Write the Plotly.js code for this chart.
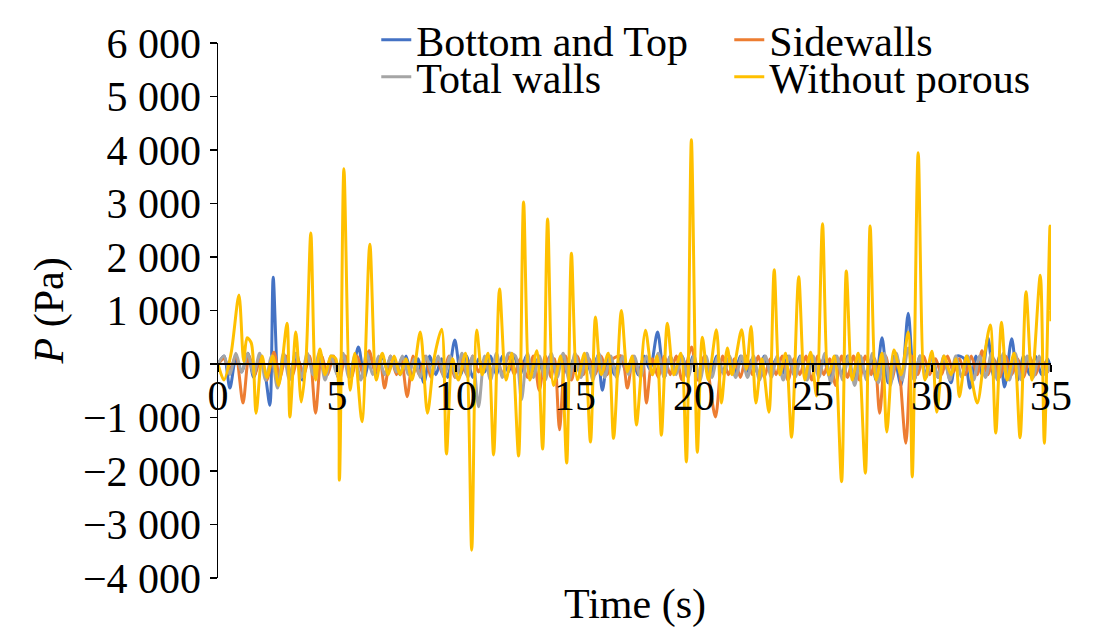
<!DOCTYPE html>
<html><head><meta charset="utf-8">
<script src="https://cdn.plot.ly/plotly-3.0.1.min.js"></script>
<style>html,body{margin:0;padding:0;background:#fff}#chart{width:1117px;height:634px}</style>
</head><body><div id="chart"></div>
<script>
const seriesNames = ["Bottom and Top", "Sidewalls", "Total walls", "Without porous"];
const seriesColors = ["#4472C4", "#ED7D31", "#A5A5A5", "#FFC000"];

// [time (s), pressure (Pa)]
const bottomTop = [[0,0],[0.25,150],[0.5,-450],[0.75,100],[1.0,-150],[1.25,200],[1.5,-250],[1.75,150],[1.95,-100],[2.18,-770],[2.32,1620],[2.55,-350],[2.8,150],[3.05,-250],[3.3,200],[3.55,-300],[3.8,150],[4.05,-200],[4.3,200],[4.55,-150],[4.8,150],[5.05,-250],[5.3,100],[5.6,-200],[5.9,320],[6.15,-250],[6.4,150],[6.65,-200],[6.9,150],[7.15,-150],[7.4,100],[7.65,-200],[7.9,150],[8.15,-250],[8.4,100],[8.65,-350],[8.9,150],[9.15,-200],[9.4,100],[9.65,-250],[9.95,450],[10.2,-200],[10.45,150],[10.7,-250],[10.95,100],[11.2,-150],[11.45,150],[11.7,-200],[11.95,150],[12.2,-150],[12.45,150],[12.7,-200],[12.95,150],[13.2,-150],[13.45,100],[13.7,-200],[13.95,150],[14.2,-150],[14.45,150],[14.7,-200],[14.95,100],[15.2,-150],[15.45,150],[15.7,-200],[15.95,150],[16.15,-490],[16.4,150],[16.65,-200],[16.9,150],[17.15,-150],[17.4,100],[17.65,-200],[17.9,150],[18.15,-100],[18.47,600],[18.75,-250],[19.0,150],[19.25,-150],[19.5,150],[19.75,-200],[19.95,150],[20.2,-300],[20.45,150],[20.7,-200],[20.95,150],[21.2,-150],[21.45,100],[21.7,-200],[21.95,150],[22.2,-150],[22.45,100],[22.7,-200],[22.95,150],[23.2,-150],[23.45,100],[23.7,-200],[23.95,150],[24.2,-200],[24.45,150],[24.7,-250],[24.95,150],[25.2,-150],[25.45,100],[25.7,-250],[25.95,150],[26.2,-200],[26.45,150],[26.7,-300],[26.95,150],[27.2,-200],[27.45,100],[27.65,-300],[27.9,490],[28.15,-350],[28.4,150],[28.7,-400],[29.0,950],[29.25,-300],[29.5,150],[29.75,-200],[30.0,150],[30.25,-250],[30.5,100],[30.8,-350],[31.05,150],[31.35,100],[31.6,-450],[31.85,150],[32.1,-200],[32.35,490],[32.6,-250],[32.85,150],[33.05,-430],[33.35,470],[33.6,-300],[33.85,150],[34.1,-200],[34.35,150],[34.6,-200],[34.85,100],[35.0,-100]];

const sidewalls = [[0,0],[0.25,100],[0.5,-100],[0.75,150],[1.05,-730],[1.3,150],[1.55,-200],[1.8,150],[2.05,-300],[2.35,220],[2.6,-250],[2.85,150],[3.1,-250],[3.35,100],[3.6,-200],[3.85,150],[4.1,-920],[4.35,150],[4.6,-200],[4.85,150],[5.1,-300],[5.35,150],[5.6,-250],[5.85,150],[6.1,-200],[6.35,250],[6.6,-150],[6.8,100],[7.0,-450],[7.25,150],[7.5,-200],[7.7,100],[7.95,-610],[8.2,150],[8.45,-200],[8.7,150],[8.95,-250],[9.2,100],[9.45,-200],[9.7,150],[9.95,-250],[10.2,100],[10.45,-200],[10.7,150],[10.95,-150],[11.2,100],[11.45,-200],[11.7,150],[11.95,-200],[12.2,150],[12.45,-200],[12.7,100],[13.0,-250],[13.25,150],[13.5,-490],[13.75,150],[14.0,-250],[14.15,100],[14.35,-1230],[14.6,150],[14.85,-300],[15.1,150],[15.35,-200],[15.6,100],[15.85,-200],[16.1,150],[16.35,-200],[16.6,100],[16.95,150],[17.2,-450],[17.45,150],[17.7,-200],[17.85,100],[18.0,-730],[18.25,100],[18.5,-250],[18.75,150],[19.0,-200],[19.25,150],[19.5,-300],[19.9,320],[20.15,-300],[20.45,150],[20.9,-990],[21.2,150],[21.45,-200],[21.7,100],[21.95,-250],[22.2,150],[22.45,-200],[22.7,150],[22.95,-250],[23.2,100],[23.45,-200],[23.7,150],[23.95,-300],[24.2,100],[24.45,-200],[24.7,150],[24.95,-300],[25.2,150],[25.45,-200],[25.7,100],[25.95,-400],[26.2,150],[26.45,-250],[26.7,150],[26.95,-300],[27.2,150],[27.45,-200],[27.6,100],[27.8,-920],[28.05,150],[28.3,-300],[28.55,100],[28.9,-1480],[29.15,150],[29.4,-200],[29.65,150],[29.9,-200],[30.15,100],[30.4,-200],[30.65,150],[30.9,-150],[31.15,100],[31.4,-200],[31.65,150],[31.9,-200],[32.1,250],[32.35,-200],[32.6,100],[32.85,-250],[33.1,150],[33.35,-200],[33.6,100],[33.85,-250],[34.1,150],[34.35,-200],[34.6,100],[34.85,-150],[35.0,0]];

const totalWalls = [[0,0],[0.25,150],[0.5,-200],[0.75,200],[1.0,-150],[1.25,200],[1.5,-200],[1.75,200],[2.0,-300],[2.25,150],[2.5,-450],[2.75,200],[3.0,-300],[3.25,200],[3.5,-250],[3.75,200],[4.0,-200],[4.25,200],[4.5,-300],[4.75,150],[5.0,-200],[5.25,200],[5.5,-250],[5.75,150],[6.0,-300],[6.25,200],[6.5,-200],[6.75,150],[7.0,-200],[7.25,150],[7.5,-150],[7.75,150],[8.0,-200],[8.25,100],[8.5,-250],[8.75,150],[9.0,-200],[9.25,150],[9.5,-250],[9.75,150],[10.0,-250],[10.25,200],[10.5,-250],[10.7,150],[10.95,-800],[11.2,150],[11.45,-300],[11.7,200],[11.95,-250],[12.2,200],[12.5,150],[12.75,-670],[13.0,200],[13.25,-250],[13.5,150],[13.75,-300],[14.0,200],[14.25,-250],[14.5,200],[14.75,-300],[15.0,200],[15.25,-250],[15.5,200],[15.75,-300],[16.0,200],[16.25,-250],[16.5,150],[16.75,-250],[17.0,150],[17.25,-200],[17.5,150],[17.75,-250],[18.0,150],[18.25,-200],[18.5,200],[18.75,-250],[19.0,150],[19.25,-200],[19.5,150],[19.75,-250],[20.0,150],[20.25,-300],[20.5,150],[20.75,-250],[21.0,150],[21.25,-200],[21.5,150],[21.75,-250],[22.0,150],[22.25,-250],[22.5,150],[22.75,-300],[23.0,150],[23.25,-250],[23.5,150],[23.75,-300],[24.0,150],[24.25,-250],[24.5,150],[24.75,-300],[25.0,150],[25.25,-250],[25.5,200],[25.75,-350],[26.0,150],[26.25,-300],[26.5,150],[26.75,-400],[27.0,150],[27.25,-300],[27.5,200],[27.75,-350],[28.0,200],[28.25,-400],[28.5,200],[28.75,-300],[29.0,300],[29.25,-300],[29.5,150],[29.75,-250],[30.0,150],[30.25,-250],[30.5,150],[30.75,-300],[31.0,150],[31.25,-250],[31.5,150],[31.75,-300],[32.0,150],[32.25,-250],[32.5,200],[32.75,-300],[33.0,200],[33.25,-300],[33.5,200],[33.75,-300],[34.0,150],[34.25,-250],[34.5,150],[34.75,-200],[35.0,0]];

const withoutPorous = [[0,0],[0.25,-300],[0.55,200],[0.88,1290],[1.08,50],[1.22,490],[1.40,390],[1.60,-920],[1.85,150],[2.05,-250],[2.30,150],[2.55,-400],[2.90,760],[3.02,-990],[3.27,600],[3.50,-710],[3.70,100],[3.90,2450],[4.10,-300],[4.28,280],[4.50,-200],[4.75,150],[4.95,100],[5.10,-2170],[5.29,3650],[5.55,-490],[5.75,200],[6.05,-1080],[6.38,2240],[6.65,-300],[6.90,200],[7.15,-200],[7.40,150],[7.65,-200],[7.90,100],[8.15,-300],[8.50,600],[8.80,-920],[9.10,150],[9.40,650],[9.60,-1680],[9.85,100],[10.10,-300],[10.40,200],[10.66,-3480],[10.87,635],[11.10,-200],[11.35,200],[11.58,-1700],[11.83,1400],[12.10,-300],[12.35,200],[12.63,-1720],[12.84,3030],[13.10,-300],[13.40,250],[13.64,-1590],[13.85,2710],[14.10,-400],[14.40,150],[14.65,-1850],[14.85,2070],[15.10,-300],[15.40,200],[15.65,-1460],[15.86,880],[16.10,-200],[16.40,200],[16.62,-1390],[16.95,1000],[17.20,-150],[17.40,150],[17.58,-1140],[17.96,630],[18.25,-200],[18.45,150],[18.63,-1330],[18.88,760],[19.15,-200],[19.45,200],[19.68,-1830],[19.89,4190],[20.14,-1650],[20.35,500],[20.60,-300],[20.94,640],[21.15,-730],[21.40,300],[21.60,-200],[22.00,640],[22.20,-100],[22.40,700],[22.60,-730],[22.85,100],[23.15,-900],[23.37,1760],[23.60,-200],[23.85,200],[24.10,-1370],[24.40,1630],[24.65,-300],[24.90,220],[25.15,-600],[25.40,2620],[25.65,-200],[25.90,150],[26.20,-2200],[26.40,1740],[26.65,-300],[26.90,200],[27.20,-2040],[27.40,2580],[27.65,-300],[27.90,200],[28.10,-1270],[28.40,260],[28.70,-200],[29.00,600],[29.17,-2110],[29.42,3950],[29.70,-300],[30.00,240],[30.20,-900],[30.50,150],[30.80,-200],[31.00,100],[31.15,-610],[31.45,150],[31.90,-730],[32.20,150],[32.45,730],[32.68,-1290],[32.92,780],[33.15,-300],[33.45,200],[33.70,-1380],[33.95,1350],[34.20,-300],[34.55,1660],[34.72,-1480],[34.96,2580],[35.00,800]];

const yTickValues = [-4000, -3000, -2000, -1000, 0, 1000, 2000, 3000, 4000, 5000, 6000];
const yTickLabels = ["\u22124 000", "\u22123 000", "\u22122 000", "\u22121 000", "0", "1 000", "2 000", "3 000", "4 000", "5 000", "6 000"];
const xTickValues = [0, 5, 10, 15, 20, 25, 30, 35];
const xTickLabels = ["0", "5", "10", "15", "20", "25", "30", "35"];
const xTitle = "Time (s)";
const yTitle = "<i>P</i> (Pa)";

const allSeries = [bottomTop, sidewalls, totalWalls, withoutPorous];
const legendIds = ["legend", "legend", "legend2", "legend2"];
const FONT = "Liberation Serif, Times New Roman, serif";

const traces = allSeries.map((s, i) => ({
  type: "scatter", mode: "lines",
  x: s.map(p => p[0]), y: s.map(p => p[1]),
  name: seriesNames[i], legend: legendIds[i],
  line: {color: seriesColors[i], width: 3, shape: "spline", smoothing: 0.8},
  hoverinfo: "x+y+name"
}));

const legendCommon = {
  orientation: "h", xanchor: "left", yanchor: "middle",
  entrywidth: 308, itemwidth: 30, bgcolor: "rgba(0,0,0,0)",
  font: {family: FONT, size: 42, color: "#000"}
};

const layout = {
  width: 1117, height: 634,
  margin: {l: 218, r: 66, t: 43, b: 56, autoexpand: false},
  paper_bgcolor: "#fff", plot_bgcolor: "#fff",
  font: {family: FONT, size: 42, color: "#000"},
  showlegend: true,
  legend: Object.assign({x: 0.19, y: 1.0055}, legendCommon),
  legend2: Object.assign({x: 0.19, y: 0.9365}, legendCommon),
  xaxis: {
    range: [0, 35], anchor: "free", position: 0.4,
    tickvals: xTickValues, ticktext: xTickLabels,
    ticks: "outside", ticklen: 7, tickwidth: 1.5, tickcolor: "#000",
    ticklabelstandoff: -12,
    showline: true, linecolor: "#000", linewidth: 2,
    showgrid: false, zeroline: false,
    tickfont: {family: FONT, size: 42, color: "#000"}
  },
  yaxis: {
    range: [-4000, 6000],
    tickvals: yTickValues, ticktext: yTickLabels,
    ticks: "outside", ticklen: 7, tickwidth: 1.5, tickcolor: "#000",
    showline: true, linecolor: "#000", linewidth: 1.5,
    showgrid: false, zeroline: false,
    tickfont: {family: FONT, size: 42, color: "#000"}
  },
  annotations: [
    {text: xTitle, xref: "paper", yref: "paper", x: 0.5, y: -0.05, xanchor: "center", yanchor: "middle",
     showarrow: false, font: {family: FONT, size: 42, color: "#000"}},
    {text: yTitle, xref: "paper", yref: "paper", x: -0.2017, y: 0.5, xanchor: "center", yanchor: "middle",
     textangle: -90, showarrow: false, font: {family: FONT, size: 42, color: "#000"}}
  ]
};

Plotly.newPlot("chart", traces, layout, {displayModeBar: false, staticPlot: true});
</script></body></html>
